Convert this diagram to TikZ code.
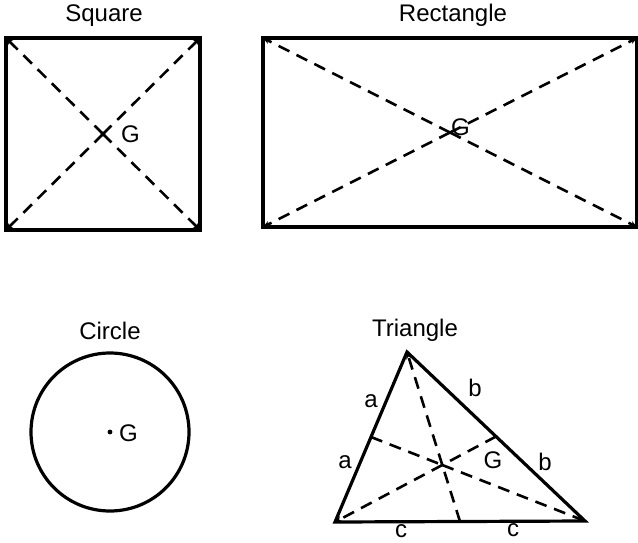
\documentclass[tikz,border=0pt]{standalone}
\usepackage{fontspec}
\setmainfont{Liberation Sans}
\usetikzlibrary{arrows.meta}
\begin{document}
\begin{tikzpicture}[x=1pt,y=-1pt,
  outl/.style={line width=3.2pt},
  diag/.style={line width=2.6pt,dash pattern=on 12pt off 8pt,-{Stealth[length=7pt,width=6pt]}},
  lbl/.style={font=\fontsize{24}{28}\selectfont,inner sep=0pt}]
\useasboundingbox (0,0) rectangle (638,542);
% Square
\coordinate (s1) at (6,38); \coordinate (s2) at (200,38);
\coordinate (s3) at (200,230); \coordinate (s4) at (6,230);
\coordinate (sg) at (103,134);
\draw[outl] (s1) rectangle (s3);
\foreach \c in {s1,s2,s3,s4} \draw[diag] (sg) -- (\c);
\fill (sg) circle (2.4pt);
\node[lbl,anchor=west] (sG) at (121,134) {G};
\node[lbl] (sT) at (104,16) {Square};
% Rectangle
\coordinate (r1) at (263,38); \coordinate (r2) at (637,38);
\coordinate (r3) at (637,227); \coordinate (r4) at (263,227);
\coordinate (rg) at (450,132.5);
\draw[outl] (r1) rectangle (r3);
\foreach \c in {r1,r2,r3,r4} \draw[diag] (rg) -- (\c);
\node[lbl,anchor=west] (rG) at (451,127) {G};
\node[lbl] (rT) at (453,15) {Rectangle};
% Circle
\coordinate (cc) at (110,432);
\draw[outl] (cc) circle (79);
\fill (cc) circle (2.4pt);
\node[lbl,anchor=west] (cG) at (119,433) {G};
\node[lbl] (cT) at (110,331) {Circle};
% Triangle
\coordinate (A) at (407,352); \coordinate (B) at (335,522); \coordinate (C) at (585,521);
\draw[outl,line join=miter] (A) -- (B) -- (C) -- cycle;
\coordinate (mAB) at (371,437); \coordinate (mAC) at (496,436.5); \coordinate (mBC) at (460,521.5);
\coordinate (G3) at (442.3,465);
\draw[diag,-] (mAB) -- (G3);
\draw[diag,-] (mAC) -- (G3);
\draw[diag,-] (mBC) -- (G3);
\draw[diag] (G3) -- (A);
\draw[diag] (G3) -- (B);
\draw[diag] (G3) -- (C);
\node[lbl] (tG) at (493,460) {G};
\node[lbl] (tT) at (415,330) {Triangle};
\node[lbl] (a1) at (371,401) {a};
\node[lbl] (a2) at (345,462) {a};
\node[lbl] (b1) at (475,388) {b};
\node[lbl] (b2) at (545,462) {b};
\node[lbl] (c1) at (401,531) {c};
\node[lbl] (c2) at (513,530) {c};
\end{tikzpicture}
\end{document}
